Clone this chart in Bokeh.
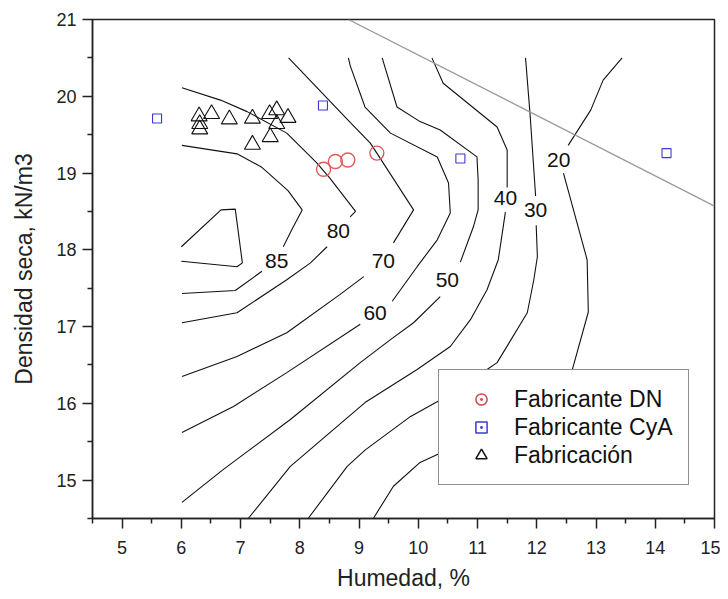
from bokeh.plotting import figure
from bokeh.models import FixedTicker, Legend, LegendItem
from bokeh.embed import file_html
from bokeh.resources import INLINE
from bokeh.core.properties import value

NaN = float("nan")
FONT = "Liberation Sans"

# ---- contour lines (x = Humedad %, y = Densidad seca kN/m3); NaN = gap at the label
c90_x = [6.00, 6.67, 6.91, 7.03, 6.94, 6.00]
c90_y = [18.04, 18.52, 18.53, 17.83, 17.78, 17.85]

c85_x = [6.01, 6.94, 7.35, 7.80, 8.04, 7.87, 7.72, NaN, 7.36, 6.91, 6.01]
c85_y = [19.36, 19.25, 19.08, 18.77, 18.52, 18.27, 18.04, NaN, 17.72, 17.47, 17.43]

c80_x = [6.01, 6.66, 7.11, 7.78, 8.29, 8.51, 8.94, 8.85, NaN, 8.46, 8.18, 7.78, 6.94, 6.01]
c80_y = [20.11, 19.95, 19.80, 19.52, 19.13, 18.93, 18.50, 18.43, NaN, 18.04, 17.83, 17.61, 17.18, 17.05]

c70_x = [7.81, 8.85, 9.19, 9.30, 9.92, 9.58, NaN, 9.08, 8.68, 7.78, 6.94, 6.01]
c70_y = [20.50, 19.66, 19.39, 19.26, 18.52, 18.09, NaN, 17.65, 17.42, 16.92, 16.61, 16.35]

c60_x = [8.82, 8.85, 9.10, 9.53, 10.32, 10.51, 10.54, 10.32, 9.98, 9.56, NaN, 9.02, 7.78, 6.88, 6.01]
c60_y = [20.50, 20.40, 19.86, 19.52, 19.21, 18.87, 18.48, 18.13, 17.78, 17.33, NaN, 17.03, 16.40, 15.96, 15.62]

c50_x = [9.39, 9.64, 10.03, 10.37, 10.99, 11.01, 11.01, 10.93, 10.71, NaN, 10.37, 9.92, 9.53, 9.02, 7.84, 6.71, 6.01]
c50_y = [20.50, 19.86, 19.67, 19.56, 19.21, 18.91, 18.52, 18.30, 17.84, NaN, 17.39, 17.05, 16.83, 16.53, 15.79, 15.14, 14.71]

c40_x = [10.23, 10.42, 11.33, 11.50, 11.50, NaN, 11.47, 11.35, 11.16, 10.88, 10.54, 9.98, 9.10, 7.84, 7.13]
c40_y = [20.50, 20.17, 19.60, 19.30, 18.81, NaN, 18.49, 17.87, 17.48, 17.09, 16.74, 16.44, 16.01, 15.18, 14.50]

c30_x = [11.81, 11.89, 11.98, NaN, 11.99, 12.01, 11.95, 11.84, 11.33, 11.16, 10.34, 9.87, 9.10, 8.80, 8.14]
c30_y = [20.50, 19.73, 18.70, NaN, 18.32, 17.91, 17.61, 17.18, 16.53, 16.44, 16.03, 15.83, 15.39, 15.18, 14.50]

c20_x = [13.44, 13.12, 12.91, 12.53, NaN, 12.45, 12.85, 12.87, 12.60, 10.34, 10.03, 9.58, 9.24]
c20_y = [20.50, 20.21, 19.82, 19.36, NaN, 19.00, 17.87, 17.19, 16.44, 15.34, 15.23, 14.92, 14.50]

contours = [(c90_x, c90_y), (c85_x, c85_y), (c80_x, c80_y), (c70_x, c70_y),
            (c60_x, c60_y), (c50_x, c50_y), (c40_x, c40_y), (c30_x, c30_y),
            (c20_x, c20_y)]

# ---- contour labels
lab_text = ["85", "80", "70", "60", "50", "40", "30", "20"]
lab_x = [7.61, 8.65, 9.41, 9.27, 10.49, 11.47, 11.98, 12.37]
lab_y = [17.85, 18.24, 17.85, 17.18, 17.61, 18.67, 18.52, 19.17]

# ---- straight grey line
gl_x = [8.82, 15.0]
gl_y = [21.0, 18.57]

# ---- measured points
dn_x = [8.40, 8.60, 8.81, 9.30]
dn_y = [19.05, 19.15, 19.17, 19.26]

cya_x = [5.59, 8.39, 10.71, 14.19]
cya_y = [19.71, 19.88, 19.19, 19.26]

fab_x = [6.30, 6.31, 6.31, 6.51, 6.81, 7.20, 7.20, 7.49, 7.61, 7.80, 7.61, 7.50]
fab_y = [19.74, 19.64, 19.57, 19.77, 19.70, 19.71, 19.37, 19.77, 19.82, 19.72, 19.64, 19.47]

x_ticks = [5, 6, 7, 8, 9, 10, 11, 12, 13, 14, 15]
x_minor = [4.5, 5.5, 6.5, 7.5, 8.5, 9.5, 10.5, 11.5, 12.5, 13.5, 14.5]
y_ticks = [15, 16, 17, 18, 19, 20, 21]
y_minor = [14.5, 15.5, 16.5, 17.5, 18.5, 19.5, 20.5]

p = figure(width=720, height=599, x_range=(4.5, 15), y_range=(14.5, 21),
           output_backend="svg", toolbar_location=None,
           min_border_left=92, min_border_right=6, min_border_top=19, min_border_bottom=81)
p.xgrid.visible = False
p.ygrid.visible = False
p.outline_line_color = "#222222"
p.outline_line_width = 1.5
p.background_fill_color = "white"
p.border_fill_color = "white"

for ax, ticks, minor in ((p.xaxis[0], x_ticks, x_minor), (p.yaxis[0], y_ticks, y_minor)):
    ax.ticker = FixedTicker(ticks=ticks, minor_ticks=minor)
    ax.major_tick_in = 0
    ax.major_tick_out = 10
    ax.minor_tick_in = 0
    ax.minor_tick_out = 5
    ax.axis_line_width = 1.5
    ax.axis_line_color = "#222222"
    ax.major_tick_line_color = "#222222"
    ax.minor_tick_line_color = "#222222"
    ax.major_tick_line_width = 1.5
    ax.minor_tick_line_width = 1.5
    ax.major_label_text_font = FONT
    ax.major_label_text_font_size = "18px"
    ax.major_label_text_color = "#222222"
    ax.axis_label_text_font = FONT
    ax.axis_label_text_font_size = "23px"
    ax.axis_label_text_font_style = "normal"
    ax.axis_label_text_color = "#222222"

p.xaxis.axis_label = "Humedad, %"
p.yaxis.axis_label = "Densidad seca, kN/m3"
p.xaxis.major_label_standoff = 12
p.xaxis.axis_label_standoff = 8
p.yaxis.major_label_standoff = 6
p.yaxis.axis_label_standoff = 16

for cx, cy in contours:
    p.line(cx, cy, line_color="#111111", line_width=1.1)

p.line(gl_x, gl_y, line_color="#9a9a9a", line_width=1.3)

p.text(lab_x, lab_y, text=lab_text, text_font=value(FONT), text_font_size="21px",
       text_align="center", text_baseline="middle", text_color="#111111")

p.scatter(fab_x, fab_y, marker="triangle", size=16, fill_color=None,
          line_color="#111111", line_width=1.1)
p.scatter(cya_x, cya_y, marker="square", size=9, fill_color=None,
          line_color="#3b3bd0", line_width=1.1)
p.scatter(dn_x, dn_y, marker="circle", size=14, fill_color=None,
          line_color="#e05a5a", line_width=1.4)

# legend proxies (Origin-style dotted symbols); NaN positions are never drawn in the plot
r_dn = p.scatter([NaN], [NaN], marker="circle_dot", size=11, fill_color=None,
                 line_color="#d04848", line_width=1.5)
r_cya = p.scatter([NaN], [NaN], marker="square_dot", size=9, fill_color=None,
                  line_color="#3b3bd0", line_width=1.5)
r_fab = p.scatter([NaN], [NaN], marker="triangle", size=11, fill_color=None,
                  line_color="#111111", line_width=1.5)

legend = Legend(items=[LegendItem(label="Fabricante DN", renderers=[r_dn]),
                       LegendItem(label="Fabricante CyA", renderers=[r_cya]),
                       LegendItem(label="Fabricación", renderers=[r_fab])],
                location=(346, 33))
legend.label_text_font = FONT
legend.label_text_font_size = "23px"
legend.label_text_color = "#111111"
legend.glyph_width = 54
legend.glyph_height = 28
legend.label_height = 28
legend.label_standoff = 6
legend.spacing = 0
legend.padding = 15
legend.margin = 0
legend.border_line_color = "#222222"
legend.border_line_width = 1.2
legend.background_fill_color = "white"
legend.background_fill_alpha = 1.0
p.add_layout(legend, "center")

with open("out.html", "w", encoding="utf-8") as f:
    f.write(file_html(p, INLINE))
